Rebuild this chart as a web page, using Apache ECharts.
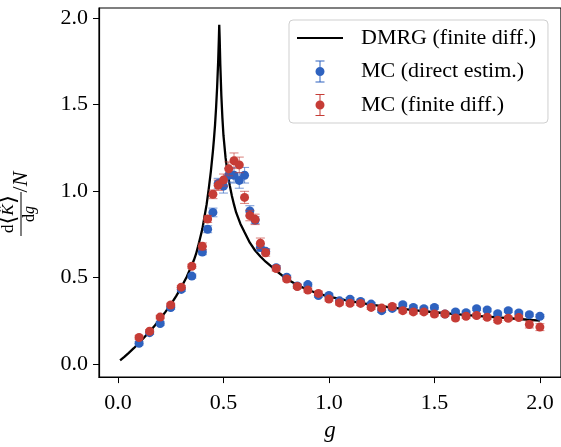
<!DOCTYPE html>
<html>
<head>
<meta charset="utf-8">
<script src="https://cdn.jsdelivr.net/npm/echarts@6/dist/echarts.min.js"></script>
<style>html,body{margin:0;padding:0;background:#fff;}#c{width:561px;height:447px;}</style>
</head>
<body>
<div id="c"></div>
<script>
// ---- data ----
const dmrgG = [0.01,0.03,0.05,0.075,0.1,0.125,0.15,0.175,0.2,0.225,0.25,0.275,0.3,0.325,0.35,0.36,0.37,0.38,0.39,0.40,0.41,0.42,0.43,0.44,0.45,0.455,0.46,0.465,0.47,0.475,0.478,0.48,0.482,0.485,0.49,0.495,0.50,0.51,0.52,0.53,0.54,0.55,0.56,0.58,0.60,0.625,0.65,0.675,0.70,0.75,0.80,0.85,0.90,0.95,1.0,1.1,1.2,1.3,1.4,1.5,1.6,1.7,1.8,1.9,2.0];
const dmrgY = [0.02,0.04,0.062,0.09,0.12,0.153,0.187,0.222,0.26,0.30,0.342,0.39,0.442,0.50,0.57,0.60,0.635,0.68,0.73,0.78,0.85,0.92,1.01,1.11,1.23,1.30,1.38,1.48,1.60,1.75,1.87,1.96,1.88,1.73,1.55,1.42,1.32,1.19,1.10,1.03,0.97,0.92,0.875,0.81,0.76,0.70,0.655,0.62,0.59,0.538,0.49,0.455,0.428,0.405,0.388,0.362,0.342,0.325,0.31,0.298,0.287,0.277,0.268,0.259,0.25];

const mcG = [0.1,0.15,0.2,0.25,0.3,0.35,0.4,0.425,0.45,0.475,0.5,0.525,0.55,0.575,0.6,0.625,0.65,0.675,0.7,0.75,0.8,0.85,0.9,0.95,1.0,1.05,1.1,1.15,1.2,1.25,1.3,1.35,1.4,1.45,1.5,1.55,1.6,1.65,1.7,1.75,1.8,1.85,1.9,1.95,2.0];
const directY = [0.118,0.18,0.233,0.325,0.43,0.507,0.646,0.778,0.875,1.042,1.027,1.09,1.09,1.06,1.09,0.884,0.83,0.672,0.65,0.555,0.50,0.45,0.458,0.395,0.395,0.364,0.373,0.36,0.345,0.307,0.32,0.341,0.326,0.318,0.326,0.288,0.30,0.295,0.318,0.311,0.289,0.307,0.294,0.284,0.275];
const directErr = [0.01,0.01,0.01,0.01,0.012,0.012,0.015,0.02,0.025,0.03,0.04,0.04,0.045,0.045,0.045,0.03,0.02,0.02,0.015,0.012,0.012,0.01,0.01,0.01,0.01,0.01,0.01,0.01,0.01,0.01,0.01,0.01,0.01,0.01,0.01,0.01,0.01,0.01,0.01,0.01,0.01,0.01,0.01,0.01,0.01];
const finiteY = [0.152,0.188,0.27,0.34,0.443,0.564,0.679,0.837,0.98,1.032,1.062,1.127,1.174,1.15,0.962,0.857,0.835,0.697,0.642,0.551,0.49,0.447,0.426,0.407,0.374,0.352,0.35,0.349,0.326,0.322,0.331,0.307,0.30,0.30,0.288,0.288,0.265,0.275,0.279,0.269,0.251,0.263,0.267,0.227,0.212];
const finiteErr = [0.01,0.01,0.01,0.01,0.01,0.012,0.02,0.02,0.025,0.03,0.035,0.04,0.045,0.045,0.035,0.03,0.03,0.03,0.02,0.015,0.012,0.012,0.012,0.012,0.012,0.012,0.012,0.012,0.012,0.012,0.012,0.012,0.012,0.012,0.012,0.012,0.012,0.012,0.012,0.012,0.012,0.012,0.012,0.02,0.02];

const xTicks = [0, 0.5, 1.0, 1.5, 2.0];
const yTicks = [0, 0.5, 1.0, 1.5, 2.0];

const seriesNames = ['DMRG (finite diff.)', 'MC (direct estim.)', 'MC (finite diff.)'];

// ---- styles ----
const FONT = 'Liberation Serif, Times New Roman, DejaVu Serif, serif';
const BLUE = '#2e62bf';
const RED = '#c63c36';
const BLUE_E = 'rgba(46,98,191,0.6)';
const RED_E = 'rgba(198,60,54,0.6)';

function pairs(xs, ys) { return xs.map((x, i) => [x, ys[i]]); }
function triples(xs, ys, es) { return xs.map((x, i) => [x, ys[i], es[i]]); }

function errRender(color) {
  return function (params, api) {
    const x = api.value(0), y = api.value(1), e = api.value(2);
    const t = api.coord([x, y + e]);
    const b = api.coord([x, y - e]);
    const hw = 4.5;
    const st = { stroke: color, lineWidth: 1.1 };
    return {
      type: 'group',
      children: [
        { type: 'line', shape: { x1: t[0], y1: t[1], x2: b[0], y2: b[1] }, style: st },
        { type: 'line', shape: { x1: t[0] - hw, y1: t[1], x2: t[0] + hw, y2: t[1] }, style: st },
        { type: 'line', shape: { x1: b[0] - hw, y1: b[1], x2: b[0] + hw, y2: b[1] }, style: st }
      ]
    };
  };
}

const lineIcon = 'path://M0,0M59,24M0,10.9H46V13.1H0Z';
const errIcon = 'path://M0,0M59,24M18.5,1H27.5V2H23.5V7.5H22.5V2H18.5Z' +
  'M18.5,23H27.5V22H23.5V16.5H22.5V22H18.5Z' +
  'M27.5,12A4.5,4.5 0 1 1 18.5,12A4.5,4.5 0 1 1 27.5,12Z';

const chart = echarts.init(document.getElementById('c'), null, { renderer: 'canvas' });
chart.setOption({
  animation: false,
  backgroundColor: '#fff',
  grid: { left: 99, top: 8, right: -1, bottom: 63, show: true, borderColor: '#000', borderWidth: 1.2, backgroundColor: 'transparent' },
  xAxis: {
    type: 'value', min: -0.09, max: 2.1,
    name: 'g', nameLocation: 'middle', nameGap: 40,
    nameTextStyle: { fontFamily: FONT, fontSize: 23, fontStyle: 'italic', color: '#000' },
    axisLine: { show: true, onZero: false, lineStyle: { color: '#000', width: 1.2 } },
    axisTick: { show: true, inside: false, length: 6, lineStyle: { color: '#000', width: 1 }, customValues: xTicks },
    axisLabel: { customValues: xTicks, margin: 15, color: '#000', fontFamily: FONT, fontSize: 22, formatter: v => v.toFixed(1) },
    splitLine: { show: false }
  },
  yAxis: {
    type: 'value', min: -0.077, max: 2.057,
    axisLine: { show: true, onZero: false, lineStyle: { color: '#000', width: 1.2 } },
    axisTick: { show: true, inside: false, length: 6, lineStyle: { color: '#000', width: 1 }, customValues: yTicks },
    axisLabel: { customValues: yTicks, margin: 11, color: '#000', fontFamily: FONT, fontSize: 22, formatter: v => v.toFixed(1) },
    splitLine: { show: false }
  },
  legend: {
    left: 289, top: 20, orient: 'vertical',
    padding: [5, 12, 5, 8],
    itemWidth: 59, itemHeight: 24, itemGap: 7.5,
    borderColor: '#cfcfcf', borderWidth: 1, borderRadius: 4,
    backgroundColor: 'rgba(255,255,255,0.8)',
    itemStyle: { borderWidth: 0 },
    textStyle: { fontFamily: FONT, fontSize: 22, color: '#000', lineHeight: 26 },
    data: [
      { name: seriesNames[0], icon: lineIcon },
      { name: seriesNames[1], icon: errIcon },
      { name: seriesNames[2], icon: errIcon }
    ]
  },
  graphic: [
    {
      type: 'group', position: [21, 200], rotation: Math.PI / 2,
      children: [
        { type: 'text', style: { x: -14, y: -1, text: '{r|d}{b|⟨}{i|K̂}{b|⟩}', align: 'center', verticalAlign: 'bottom',
            rich: { r: { fontFamily: FONT, fontSize: 17, fill: '#000' }, i: { fontFamily: FONT, fontSize: 17, fontStyle: 'italic', fill: '#000' }, b: { fontFamily: FONT, fontSize: 23, fill: '#000' } } } },
        { type: 'line', shape: { x1: -36, y1: 0, x2: 8, y2: 0 }, style: { stroke: '#000', lineWidth: 1 } },
        { type: 'text', style: { x: -14, y: 1, text: '{r|d}{i|g}', align: 'center', verticalAlign: 'top',
            rich: { r: { fontFamily: FONT, fontSize: 16, fill: '#000' }, i: { fontFamily: FONT, fontSize: 16, fontStyle: 'italic', fill: '#000' } } } },
        { type: 'text', style: { x: 18, y: 0, text: '{r|/}{i|N}', align: 'center', verticalAlign: 'middle',
            rich: { r: { fontFamily: FONT, fontSize: 22, fill: '#000' }, i: { fontFamily: FONT, fontSize: 22, fontStyle: 'italic', fill: '#000' } } } }
      ]
    }
  ],
  series: [
    {
      name: seriesNames[0], type: 'line', data: pairs(dmrgG, dmrgY),
      showSymbol: false, symbol: 'none', smooth: false,
      lineStyle: { color: '#000', width: 2.3 }, itemStyle: { color: '#000' }, z: 2
    },
    {
      name: seriesNames[1], type: 'scatter', data: pairs(mcG, directY),
      symbol: 'circle', symbolSize: 9, itemStyle: { color: BLUE, opacity: 1 }, z: 4
    },
    {
      name: seriesNames[1], type: 'custom', data: triples(mcG, directY, directErr),
      renderItem: errRender(BLUE_E), z: 3, encode: { x: 0, y: 1 }
    },
    {
      name: seriesNames[2], type: 'scatter', data: pairs(mcG, finiteY),
      symbol: 'circle', symbolSize: 9, itemStyle: { color: RED, opacity: 1 }, z: 6
    },
    {
      name: seriesNames[2], type: 'custom', data: triples(mcG, finiteY, finiteErr),
      renderItem: errRender(RED_E), z: 5, encode: { x: 0, y: 1 }
    }
  ]
});
</script>
</body>
</html>
